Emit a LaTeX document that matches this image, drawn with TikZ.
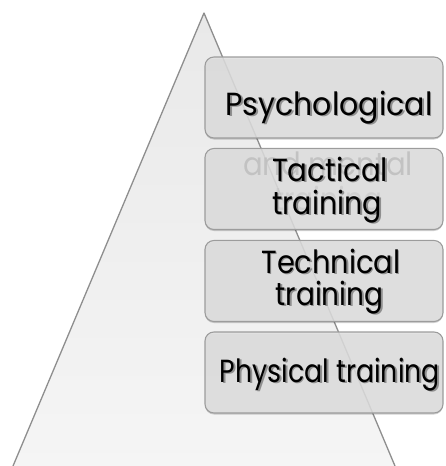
\documentclass[tikz,border=0pt]{standalone}
\usepackage{graphicx}
\usepackage{fontspec}
\setmainfont{Poppins}
\definecolor{trifillTop}{HTML}{E9E9E9}
\definecolor{trifillBot}{HTML}{F5F5F5}
\definecolor{triedge}{HTML}{8E8E8E}
\definecolor{boxfill}{HTML}{E1E1E1}
\definecolor{boxedge}{HTML}{9C9C9C}
% set a word at a given width, keeping its height
\newcommand{\wfit}[2]{\resizebox{#1}{\height}{#2}}
\begin{document}
\begin{tikzpicture}[x=1pt,y=-1pt,
  box/.style={draw=boxedge, line width=1.1pt, fill=boxfill, fill opacity=0.85,
    rounded corners=9pt, minimum width=238pt, minimum height=81pt,
    inner sep=0pt, outer sep=0pt},
  boxshadow/.style={fill=black, fill opacity=0.18, draw=none,
    rounded corners=9pt, minimum width=238pt, minimum height=81pt,
    inner sep=0pt, outer sep=0pt},
  lbl/.style={anchor=base, inner sep=0pt, text=black,
    font=\fontsize{32}{33}\selectfont},
  lblshadow/.style={lbl, text=black, text opacity=0.35},
  ghost/.style={lbl, text=black, text opacity=0.9},
  faintghost/.style={lbl, text=black, text opacity=0.45}
]
\useasboundingbox (0,0) rectangle (446,466);
\clip (0,0) rectangle (446,466);

% pyramid
\shade[top color=trifillTop, bottom color=trifillBot]
  (204,13) -- (10.9,471) -- (397.1,471) -- cycle;
\draw[triedge, line width=1.3pt, line join=round]
  (10.9,471) -- (204,13) -- (397.1,471);

% level 1
\node[boxshadow] (s1) at (324,99) {};
\node[box] (b1) at (324,97.5) {};
\node[lblshadow] (t1s) at (330.5,116.5) {\wfit{207pt}{Psychological}};
\node[lbl] (t1) at (329,115) {\wfit{207pt}{Psychological}};
\node[ghost] (g1) at (328,175) {\wfit{170pt}{and mental}};
\node[faintghost] (g2) at (328,210) {\wfit{108pt}{training}};

% level 2
\node[boxshadow] (s2) at (324,190.5) {};
\node[box] (b2) at (324,189) {};
\node[lblshadow] (t2as) at (331.5,182.5) {\wfit{116pt}{Tactical}};
\node[lbl] (t2a) at (330,181) {\wfit{116pt}{Tactical}};
\node[lblshadow] (t2bs) at (328.5,215.5) {\wfit{110pt}{training}};
\node[lbl] (t2b) at (327,214) {\wfit{110pt}{training}};

% level 3
\node[boxshadow] (s3) at (324,282.5) {};
\node[box] (b3) at (324,281) {};
\node[lblshadow] (t3as) at (332.5,274.5) {\wfit{139pt}{Technical}};
\node[lbl] (t3a) at (331,273) {\wfit{139pt}{Technical}};
\node[lblshadow] (t3bs) at (331,306.5) {\wfit{108pt}{training}};
\node[lbl] (t3b) at (329.5,305) {\wfit{108pt}{training}};

% level 4
\node[boxshadow] (s4) at (324,374) {};
\node[box] (b4) at (324,372.5) {};
\node[lblshadow] (t4s) at (331.5,383.5) {\wfit{220pt}{Physical training}};
\node[lbl] (t4) at (330,382) {\wfit{220pt}{Physical training}};
\end{tikzpicture}
\end{document}
